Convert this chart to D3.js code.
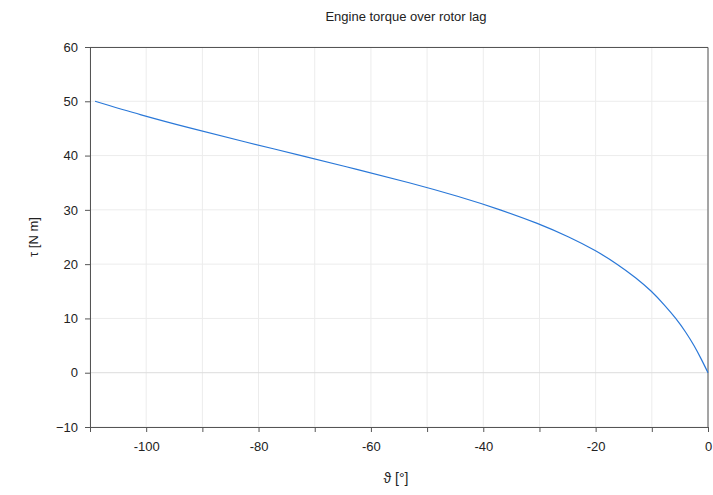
<!DOCTYPE html>
<html>
<head>
<meta charset="utf-8">
<script src="https://cdn.jsdelivr.net/npm/d3@7"></script>
<style>
  body { margin: 0; background: #fff; }
  text { font-family: "Liberation Sans", Arial, sans-serif; fill: #222; }
</style>
</head>
<body>
<div id="chart"></div>
<script>
// rotor lag [deg] and engine torque [N m]
var theta = [-109.1, -100.9, -91.9, -82.3, -72.4, -62.7, -53.2, -44.6, -37.0, -30.4, -24.8, -20.1, -16.2, -12.9, -10.1, -7.8, -5.75, -4.0, -2.5, -1.2, 0];
var tau = [50, 47.5, 45, 42.5, 40, 37.5, 35, 32.5, 30, 27.5, 25, 22.5, 20, 17.5, 15, 12.5, 10, 7.5, 5, 2.5, 0];

var xTicks = [-110, -100, -90, -80, -70, -60, -50, -40, -30, -20, -10, 0];
var xLabels = [-100, -80, -60, -40, -20, 0];
var yTicks = [-10, 0, 10, 20, 30, 40, 50, 60];

var title = "Engine torque over rotor lag";
var xTitle = "ϑ [°]";
var yTitle = "τ [N m]";

var margin = {top: 47, right: 5, bottom: 68, left: 90},
  width = 713 - margin.left - margin.right,
  height = 495 - margin.top - margin.bottom;

var svg = d3.select("#chart")
  .append("svg")
    .attr("width", 713)
    .attr("height", 495);

var graph = svg.append("g")
  .attr("transform", "translate(" + margin.left + "," + margin.top + ")");

var x = d3.scaleLinear().domain([-110, 0]).range([0, width]);
var y = d3.scaleLinear().domain([-10, 60]).range([height, 0]);

// grid
graph.append("g")
  .selectAll("line")
  .data(xTicks)
  .join("line")
    .attr("x1", function(d) { return x(d); })
    .attr("x2", function(d) { return x(d); })
    .attr("y1", 0)
    .attr("y2", height)
    .attr("stroke", "#ececec");

graph.append("g")
  .selectAll("line")
  .data(yTicks)
  .join("line")
    .attr("x1", 0)
    .attr("x2", width)
    .attr("y1", function(d) { return y(d); })
    .attr("y2", function(d) { return y(d); })
    .attr("stroke", function(d) { return d === 0 ? "#dcdcdc" : "#ececec"; });

// frame (top and right)
graph.append("path")
  .attr("d", "M0,0.5H" + width + "V" + height)
  .attr("fill", "none")
  .attr("stroke", "#555");

// axes
var xAxis = graph.append("g")
  .attr("transform", "translate(0," + height + ")")
  .call(d3.axisBottom(x)
    .tickValues(xTicks)
    .tickSize(5)
    .tickPadding(10)
    .tickSizeOuter(0)
    .tickFormat(function(d) { return xLabels.indexOf(d) >= 0 ? d : ""; }));

var yAxis = graph.append("g")
  .call(d3.axisLeft(y)
    .tickValues(yTicks)
    .tickSize(5)
    .tickPadding(7)
    .tickSizeOuter(0));

[xAxis, yAxis].forEach(function(a) {
  a.select(".domain").attr("stroke", "#555");
  a.selectAll(".tick line").attr("stroke", "#555");
  a.selectAll(".tick text")
    .attr("font-size", 13)
    .attr("font-family", "'Liberation Sans', Arial, sans-serif")
    .attr("fill", "#222");
});
xAxis.selectAll(".tick text").attr("dy", "0.71em");

// curve
graph.append("path")
  .datum(theta.map(function(t, i) { return [t, tau[i]]; }))
  .attr("fill", "none")
  .attr("stroke", "#2a78d8")
  .attr("stroke-width", 1.2)
  .attr("d", d3.line()
    .curve(d3.curveNatural)
    .x(function(d) { return x(d[0]); })
    .y(function(d) { return y(d[1]); }));

// titles
svg.append("text")
  .attr("x", 406)
  .attr("y", 21)
  .attr("text-anchor", "middle")
  .attr("font-size", 13)
  .text(title);

svg.append("text")
  .attr("x", 396)
  .attr("y", 483)
  .attr("text-anchor", "middle")
  .attr("font-size", 14)
  .text(xTitle);

svg.append("text")
  .attr("transform", "translate(38," + (margin.top + height / 2) + ") rotate(-90)")
  .attr("text-anchor", "middle")
  .attr("font-size", 13)
  .text(yTitle);
</script>
</body>
</html>
